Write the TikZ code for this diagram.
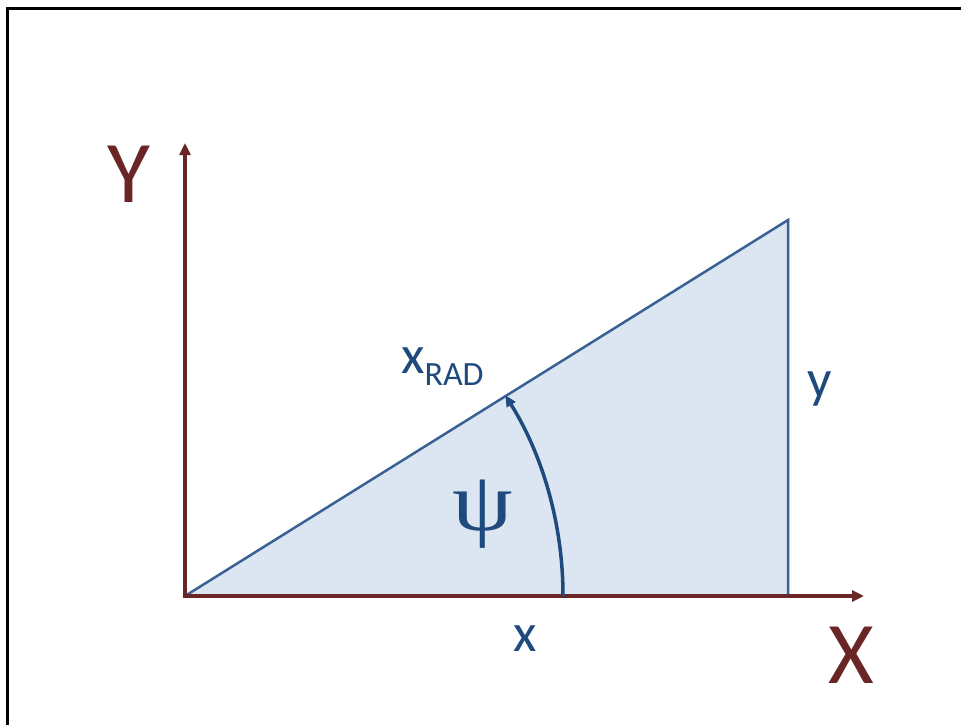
\documentclass[tikz,border=0pt]{standalone}
\usepackage{fontspec}
\setmainfont{Carlito}
\newfontfamily\greekfont{Liberation Serif}
\usetikzlibrary{arrows.meta,positioning}
\definecolor{axisred}{HTML}{6A2626}
\definecolor{triline}{HTML}{3A6194}
\definecolor{trifill}{HTML}{DCE6F2}
\definecolor{lblblue}{HTML}{1F4A7E}

\begin{document}
\begin{tikzpicture}[
  x=1pt, y=-1pt,
  axis/.style={draw=axisred, line width=4pt, -{Triangle[length=12pt,width=11pt]}},
  bigl/.style={text=axisred, inner sep=0pt, anchor=base, font=\fontsize{88}{88}\selectfont},
  lbl/.style={text=lblblue, inner sep=0pt, anchor=base, font=\fontsize{54}{54}\selectfont}
]
\useasboundingbox (0,0) rectangle (961,725);
\draw[line width=3pt] (7,726) -- (7,9) -- (962,9);

\coordinate (o) at (185,596);
\coordinate (ytip) at (185,143);
\coordinate (xtip) at (864,596);
\coordinate (top) at (788,220);
\coordinate (foot) at (788,596);
\coordinate (arcs) at (563,596);

% triangle
\filldraw[fill=trifill, draw=triline, line width=2.5pt, line join=miter]
  (o) -- (top) -- (foot);
% axes
\draw[axis] ([xshift=-2pt]o) -- (xtip);
\draw[axis] (o) -- (ytip);
% angle arc
\draw[lblblue, line width=3.5pt, -{Triangle[length=11pt,width=10pt]}]
  (arcs) arc[start angle=0, end angle=-32.05, radius=378];

\node[bigl] (ylab) at (129,202) {Y};
\node[bigl] (xlab) at (851,683) {X};
\node[lbl, anchor=base west] (xrad) at (401,373)
  {x\raisebox{-12pt}{\fontsize{34}{34}\selectfont RAD}};
\node[lbl] (ylen) at (820,397) {y};
\node[lbl] (xlen) at (525,651) {x};
\node[text=lblblue, inner sep=0pt, xscale=1.15, font=\greekfont\fontsize{84}{84}\selectfont] (psi) at (483,514) {ψ};
\end{tikzpicture}
\end{document}
